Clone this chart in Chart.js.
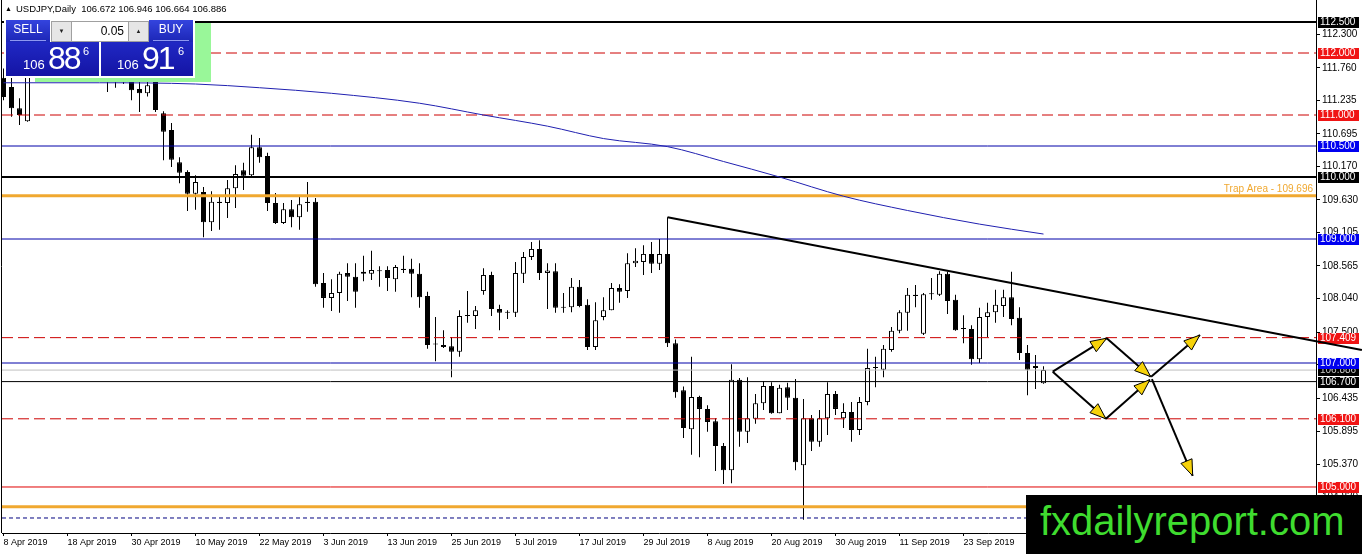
<!DOCTYPE html>
<html>
<head>
<meta charset="utf-8">
<title>USDJPY Daily</title>
<script src="https://cdn.jsdelivr.net/npm/chart.js@4.4.1/dist/chart.umd.min.js"></script>
<style>
  body { margin: 0; background: #fff; }
  #wrap { position: relative; width: 1362px; height: 554px; overflow: hidden; font-family: "Liberation Sans", Arial, sans-serif; }
  #c { position: absolute; left: 0; top: 0; }
  .abs { position: absolute; }
  #title { left: 5px; top: 3px; font-size: 9.5px; line-height: 12px; color: #000; white-space: nowrap; }
  #title .tri { font-size: 7px; vertical-align: 1px; margin-right: 4px; }
  #green { left: 35px; top: 23px; width: 176px; height: 59px; background: #99f799; }
  #frame { left: 4px; top: 19px; width: 191px; height: 59px; background: #fff; }
  .btn { top: 20px; width: 44px; height: 22px; font-size: 12px; text-align: center; line-height: 19px; color: #fff;
         background: linear-gradient(#3444de, #1c26b6); }
  .btn i { position: absolute; left: 4px; right: 4px; bottom: 1px; height: 1px; background: #8e98f2; }
  .spin { top: 21px; width: 19px; height: 19px; background: #e6e6e6; border: 1px solid #a0a0a0; font-size: 6px;
          text-align: center; line-height: 19px; color: #222; }
  #lot { left: 72px; top: 21px; width: 52px; height: 19px; background: #fff; border-top: 1px solid #a0a0a0;
         border-bottom: 1px solid #a0a0a0; font-size: 12px; line-height: 19px; text-align: right; padding-right: 4px; }
  .pbox { top: 42px; height: 34px; color: #fff; background: linear-gradient(#2028c4, #1414a4); }
  .pbox span { position: absolute; line-height: 1; white-space: nowrap; }
  .pbox .s { font-size: 13px; top: 16px; }
  .pbox .b { font-size: 32px; letter-spacing: -2px; top: 0; }
  .pbox .e { font-size: 11px; top: 4px; }
  #brand { left: 1026px; top: 495px; width: 336px; height: 59px; background: #000; color: #3fdc2f; font-size: 40px;
           line-height: 52px; padding-left: 14px; box-sizing: border-box; white-space: nowrap; }
</style>
</head>
<body>
<div id="wrap">
  <canvas id="c" width="1362" height="554"></canvas>
  <div id="title" class="abs"><span class="tri">&#9650;</span>USDJPY,Daily&nbsp; 106.672 106.946 106.664 106.886</div>
  <div id="green" class="abs"></div>
  <div id="frame" class="abs"></div>
  <div class="abs btn" style="left:6px">SELL<i></i></div>
  <div class="abs spin" style="left:51px">&#9660;</div>
  <div id="lot" class="abs">0.05</div>
  <div class="abs spin" style="left:128px">&#9650;</div>
  <div class="abs btn" style="left:149px">BUY<i></i></div>
  <div class="abs pbox" style="left:6px;width:93px"><span class="s" style="left:17px">106</span><span class="b" style="left:42px">88</span><span class="e" style="left:77px">6</span></div>
  <div class="abs pbox" style="left:101px;width:92px"><span class="s" style="left:16px">106</span><span class="b" style="left:41px">91</span><span class="e" style="left:77px">6</span></div>
  <div id="brand" class="abs">fxdailyreport.com</div>
</div>
<script>
// candles, one per trading day from 8 Apr 2019 (index 0)
const open = [
  111.60, 111.45, 111.11, 110.90, 111.78, 112.00, 111.95, 112.02, 112.05, 111.90,
  111.95, 112.05, 111.96, 111.88, 111.72, 111.53, 111.70, 111.42, 111.35, 111.62,
  111.03, 110.76, 110.24, 110.08, 109.73, 109.76, 109.27, 109.60, 109.58, 109.82,
  110.11, 110.03, 110.48, 110.34, 109.58, 109.26, 109.48, 109.35, 109.58, 109.60,
  108.29, 108.05, 108.13, 108.45, 108.39, 108.47, 108.44, 108.48, 108.50, 108.35,
  108.52, 108.52, 108.44, 108.08, 107.31, 107.29, 107.27, 107.18, 107.76, 107.76,
  108.16, 108.42, 107.87, 107.81, 107.81, 108.44, 108.71, 108.84, 108.45, 108.48,
  107.89, 107.90, 108.23, 107.94, 107.26, 107.74, 107.85, 108.21, 108.16, 108.61,
  108.63, 108.76, 108.60, 108.76, 107.32, 106.56, 105.93, 106.45, 106.26, 106.06,
  105.66, 105.27, 106.73, 105.89, 106.10, 106.35, 106.63, 106.19, 106.61, 106.44,
  105.35, 106.11, 105.73, 106.11, 106.50, 106.11, 106.21, 105.92, 106.37, 106.92,
  106.89, 107.21, 107.52, 107.81, 108.10, 107.47, 108.11, 108.10, 108.44, 108.02,
  107.56, 107.55, 107.06, 107.74, 107.82, 107.92, 108.06, 107.73, 107.16, 106.92,
  106.672
];
const high = [
  111.75, 111.60, 111.27, 111.85, 112.05, 112.15, 112.10, 112.20, 112.17, 112.02,
  112.15, 112.30, 112.05, 111.95, 111.82, 111.75, 111.78, 111.56, 111.62, 111.70,
  111.06, 110.87, 110.32, 110.11, 110.03, 109.84, 109.77, 109.68, 109.95, 110.19,
  110.23, 110.68, 110.63, 110.39, 109.74, 109.58, 109.63, 109.68, 109.92, 109.66,
  108.45, 108.35, 108.47, 108.61, 108.61, 108.73, 108.81, 108.56, 108.56, 108.58,
  108.73, 108.68, 108.61, 108.15, 107.74, 107.53, 107.42, 107.85, 108.16, 107.92,
  108.53, 108.47, 107.94, 107.85, 108.63, 108.79, 108.95, 108.98, 108.61, 108.61,
  108.13, 108.37, 108.34, 108.03, 107.98, 108.06, 108.29, 108.27, 108.77, 108.85,
  108.90, 108.95, 109.00, 109.35, 107.38, 106.62, 107.10, 106.47, 106.32, 106.11,
  105.71, 106.98, 106.76, 106.77, 106.50, 106.71, 106.69, 106.65, 106.68, 106.74,
  106.42, 106.16, 106.24, 106.69, 106.55, 106.35, 106.37, 106.45, 107.23, 107.10,
  107.29, 107.58, 107.85, 108.21, 108.26, 108.13, 108.37, 108.48, 108.47, 108.10,
  107.77, 107.61, 107.89, 107.97, 108.18, 108.18, 108.47, 107.90, 107.29, 107.13,
  106.946
];
const low = [
  111.24, 110.97, 110.84, 110.89, 111.66, 111.80, 111.82, 111.90, 111.82, 111.75,
  111.85, 111.90, 111.70, 111.37, 111.44, 111.50, 111.24, 111.05, 111.30, 111.05,
  110.27, 110.16, 109.90, 109.45, 109.47, 109.03, 109.13, 109.15, 109.34, 109.50,
  109.79, 110.00, 110.23, 109.45, 109.24, 109.24, 109.19, 109.15, 109.44, 108.23,
  107.89, 107.84, 107.81, 108.00, 107.89, 108.32, 108.34, 108.23, 108.16, 108.15,
  108.45, 108.06, 107.89, 107.23, 107.03, 107.24, 106.77, 107.10, 107.65, 107.55,
  108.10, 107.76, 107.53, 107.71, 107.74, 108.29, 108.66, 108.34, 107.87, 107.81,
  107.81, 107.82, 107.90, 107.21, 107.21, 107.69, 107.85, 107.97, 108.05, 108.55,
  108.42, 108.45, 108.50, 107.26, 106.44, 105.79, 105.52, 105.48, 105.89, 105.26,
  105.05, 105.06, 105.65, 105.71, 106.02, 106.24, 106.18, 106.19, 106.24, 105.27,
  104.47, 105.58, 105.65, 105.84, 106.16, 105.95, 105.73, 105.84, 106.32, 106.61,
  106.77, 107.18, 107.48, 107.52, 107.90, 107.45, 108.02, 108.08, 107.79, 107.52,
  107.32, 106.97, 107.00, 107.42, 107.65, 107.74, 107.61, 107.05, 106.48, 106.58,
  106.664
];
const close = [
  111.29, 111.11, 111.00, 111.78, 112.00, 111.95, 112.02, 112.05, 111.90, 111.95,
  112.05, 111.96, 111.88, 111.72, 111.53, 111.70, 111.40, 111.35, 111.48, 111.08,
  110.73, 110.28, 110.07, 109.73, 109.92, 109.27, 109.60, 109.58, 109.82, 110.05,
  110.02, 110.48, 110.32, 109.58, 109.26, 109.48, 109.35, 109.56, 109.60, 108.27,
  108.05, 108.13, 108.44, 108.39, 108.15, 108.44, 108.50, 108.49, 108.37, 108.55,
  108.50, 108.44, 108.06, 107.29, 107.30, 107.26, 107.18, 107.76, 107.77, 107.85,
  108.42, 107.87, 107.81, 107.82, 108.45, 108.71, 108.84, 108.45, 108.49, 107.89,
  107.90, 108.23, 107.92, 107.26, 107.69, 107.85, 108.21, 108.15, 108.61, 108.65,
  108.76, 108.60, 108.76, 107.32, 106.53, 105.95, 106.45, 106.26, 106.05, 105.66,
  105.27, 106.73, 105.89, 106.11, 106.35, 106.63, 106.19, 106.60, 106.44, 105.40,
  106.11, 105.73, 106.11, 106.50, 106.26, 106.21, 105.92, 106.37, 106.92, 106.93,
  107.23, 107.52, 107.82, 108.10, 108.08, 108.11, 108.12, 108.44, 108.00, 107.53,
  107.55, 107.06, 107.74, 107.82, 107.94, 108.06, 107.71, 107.16, 106.89, 106.95,
  106.886
];

// date labels every 8 bars
const dateLabels = ['8 Apr 2019', '18 Apr 2019', '30 Apr 2019', '10 May 2019', '22 May 2019', '3 Jun 2019',
  '13 Jun 2019', '25 Jun 2019', '5 Jul 2019', '17 Jul 2019', '29 Jul 2019', '8 Aug 2019', '20 Aug 2019',
  '30 Aug 2019', '11 Sep 2019', '23 Sep 2019', '3 Oct 2019'];
const priceTicks = [112.300, 111.760, 111.235, 110.695, 110.170, 109.630, 109.105, 108.565, 108.040,
  107.500, 106.975, 106.435, 105.895, 105.370, 104.830];

// moving average, read at a few bars
const maIdx = [0, 12, 24, 32, 41, 52, 60, 68, 75, 83, 90, 97, 105, 113, 122, 130];
const maVal = [111.52, 111.52, 111.50, 111.44, 111.35, 111.19, 111.00, 110.82, 110.62, 110.49, 110.25,
  110.00, 109.69, 109.46, 109.24, 109.08];

// horizontal levels
const levelPrices = [112.5, 112.0, 111.0, 110.5, 110.0, 109.696, 109.0, 107.409, 107.0, 106.886, 106.7,
  106.1, 105.0, 104.68, 104.5];
const levelKinds = ['black2', 'redDash', 'redDash', 'navy', 'black2', 'orange', 'navy', 'redDash', 'navy',
  'bid', 'black1', 'redDash', 'red', 'orange', 'navyDash'];

// trend line (bar index, price)
const trendIdx = [83, 169.8];
const trendPx = [109.35, 107.21];

// scenario arrows: from (index, price) to (index, price)
const arrowFromIdx = [131.15, 131.15, 137.9, 137.8, 143.45, 143.55];
const arrowFromPx = [106.86, 106.86, 107.40, 106.10, 106.78, 106.74];
const arrowToIdx = [137.9, 137.8, 143.4, 143.3, 149.55, 148.65];
const arrowToPx = [107.40, 106.10, 106.78, 106.73, 107.45, 105.18];

const X_MIN = -0.1875, X_MAX = 164.0625;
const Y_MIN = 104.258, Y_MAX = 112.855;
const FONT = '"Liberation Sans", Arial, sans-serif';

const lineStyle = {
  black2: { color: '#000000', width: 2 },
  black1: { color: '#000000', width: 1 },
  redDash: { color: '#cc0000', width: 1, dash: [11, 5] },
  red: { color: '#e00000', width: 1 },
  navy: { color: '#0000a8', width: 1 },
  orange: { color: '#f0a830', width: 3 },
  bid: { color: '#c0c0c0', width: 1 },
  navyDash: { color: '#000080', width: 1, dash: [4, 3] }
};
const boxStyle = {
  black2: { bg: '#000000', fg: '#ffffff' },
  black1: { bg: '#000000', fg: '#ffffff' },
  redDash: { bg: '#f01414', fg: '#ffffff' },
  red: { bg: '#f01414', fg: '#ffffff' },
  navy: { bg: '#0000f0', fg: '#ffffff' },
  bid: { bg: '#000000', fg: '#c8c8c8' }
};

const isUp = (i) => close[i] >= open[i];
const bars = open.map((_, i) => i);

// labels in the price axis, drawn before the datasets so the trend line crosses them
const axisBoxes = {
  id: 'axisBoxes',
  beforeDatasetsDraw(chart) {
    const { ctx, chartArea, scales } = chart;
    const all = levelPrices.map((p, i) => i);
    const order = all.filter(i => levelKinds[i] === 'bid').concat(all.filter(i => levelKinds[i] !== 'bid'));
    ctx.save();
    ctx.font = '10px ' + FONT;
    ctx.textBaseline = 'middle';
    order.forEach(i => {
      const st = boxStyle[levelKinds[i]];
      if (!st) return;
      const y = Math.round(scales.y.getPixelForValue(levelPrices[i]));
      ctx.fillStyle = st.bg;
      ctx.fillRect(chartArea.right + 2, y - 5, 41, 11);
      ctx.fillStyle = st.fg;
      ctx.fillText(levelPrices[i].toFixed(3), chartArea.right + 4, y + 0.5);
    });
    ctx.restore();
  }
};

// arrow heads, trap area text, left frame
const extras = {
  id: 'extras',
  afterDatasetsDraw(chart) {
    const { ctx, chartArea, scales } = chart;
    ctx.save();
    chart.data.datasets.forEach((ds, di) => {
      if (!ds.arrowHead) return;
      const pts = chart.getDatasetMeta(di).data;
      const a = pts[0], b = pts[1];
      const ang = Math.atan2(b.y - a.y, b.x - a.x);
      const len = 16, half = 6;
      const cx = Math.cos(ang), sy = Math.sin(ang);
      ctx.beginPath();
      ctx.moveTo(b.x, b.y);
      ctx.lineTo(b.x - len * cx - half * sy, b.y - len * sy + half * cx);
      ctx.lineTo(b.x - len * cx + half * sy, b.y - len * sy - half * cx);
      ctx.closePath();
      ctx.fillStyle = '#f6d20a';
      ctx.fill();
      ctx.strokeStyle = '#000';
      ctx.lineWidth = 1;
      ctx.stroke();
    });
    const ty = scales.y.getPixelForValue(109.696);
    ctx.font = '10px ' + FONT;
    ctx.fillStyle = '#f0a830';
    ctx.textAlign = 'right';
    ctx.textBaseline = 'bottom';
    ctx.fillText('Trap Area - 109.696', chartArea.right - 3, ty - 2);
    ctx.strokeStyle = '#000';
    ctx.lineWidth = 1;
    ctx.beginPath();
    ctx.moveTo(chartArea.left - 0.5, chartArea.top);
    ctx.lineTo(chartArea.left - 0.5, chartArea.bottom);
    ctx.stroke();
    ctx.restore();
  }
};

const levelSets = levelPrices.map((p, i) => {
  const st = lineStyle[levelKinds[i]];
  return {
    type: 'line',
    data: [{ x: X_MIN, y: p }, { x: X_MAX, y: p }],
    borderColor: st.color,
    borderWidth: st.width,
    borderDash: st.dash || [],
    pointRadius: 0,
    order: 5
  };
});

const arrowSets = arrowFromIdx.map((fx, i) => ({
  type: 'line',
  data: [{ x: fx, y: arrowFromPx[i] }, { x: arrowToIdx[i], y: arrowToPx[i] }],
  borderColor: '#000',
  borderWidth: 2,
  pointRadius: 0,
  arrowHead: true,
  order: 1
}));

new Chart(document.getElementById('c'), {
  type: 'bar',
  data: {
    datasets: [
      {
        type: 'bar',
        data: bars.map(i => ({ x: i, y: [low[i], high[i]] })),
        backgroundColor: '#000',
        borderWidth: 0,
        barThickness: 1,
        grouped: false,
        inflateAmount: 0,
        order: 10
      },
      {
        type: 'bar',
        data: bars.map(i => ({ x: i, y: [open[i], close[i]] })),
        backgroundColor: (c) => (c.dataIndex !== undefined && isUp(c.dataIndex)) ? '#ffffff' : '#000000',
        borderColor: '#000',
        borderWidth: 1,
        borderSkipped: false,
        barThickness: 5,
        minBarLength: 1,
        grouped: false,
        inflateAmount: 0,
        order: 9
      },
      ...levelSets,
      {
        type: 'line',
        data: maIdx.map((x, k) => ({ x, y: maVal[k] })),
        borderColor: '#2020b0',
        borderWidth: 1,
        pointRadius: 0,
        cubicInterpolationMode: 'monotone',
        order: 4
      },
      {
        type: 'line',
        data: trendIdx.map((x, k) => ({ x, y: trendPx[k] })),
        borderColor: '#000',
        borderWidth: 2,
        pointRadius: 0,
        clip: false,
        order: 2
      },
      ...arrowSets
    ]
  },
  options: {
    responsive: false,
    animation: false,
    events: [],
    layout: { padding: { left: 2, top: 0, right: 0, bottom: 0 } },
    plugins: { legend: { display: false }, tooltip: { enabled: false } },
    scales: {
      x: {
        type: 'linear',
        min: X_MIN,
        max: X_MAX,
        offset: false,
        grid: { drawOnChartArea: false, drawTicks: true, tickLength: 3, color: '#000', offset: false },
        border: { color: '#000', width: 1 },
        afterBuildTicks: (s) => { s.ticks = dateLabels.map((d, k) => ({ value: k * 8 })); },
        afterFit: (s) => { s.height = 21; s.paddingLeft = 0; s.paddingRight = 0; },
        ticks: {
          autoSkip: false,
          maxRotation: 0,
          align: 'start',
          padding: 1,
          color: '#000',
          font: { family: FONT, size: 9 },
          callback: (v) => dateLabels[Math.round(v / 8)] || ''
        }
      },
      y: {
        type: 'linear',
        position: 'right',
        min: Y_MIN,
        max: Y_MAX,
        grid: { drawOnChartArea: false, drawTicks: true, tickLength: 4, color: '#000' },
        border: { color: '#000', width: 1 },
        afterBuildTicks: (s) => { s.ticks = priceTicks.map(v => ({ value: v })); },
        afterFit: (s) => { s.width = 46; s.paddingTop = 0; s.paddingBottom = 0; },
        ticks: {
          padding: 2,
          color: '#000',
          font: { family: FONT, size: 10 },
          callback: (v) => v.toFixed(3)
        }
      }
    }
  },
  plugins: [axisBoxes, extras]
});
</script>
</body>
</html>
